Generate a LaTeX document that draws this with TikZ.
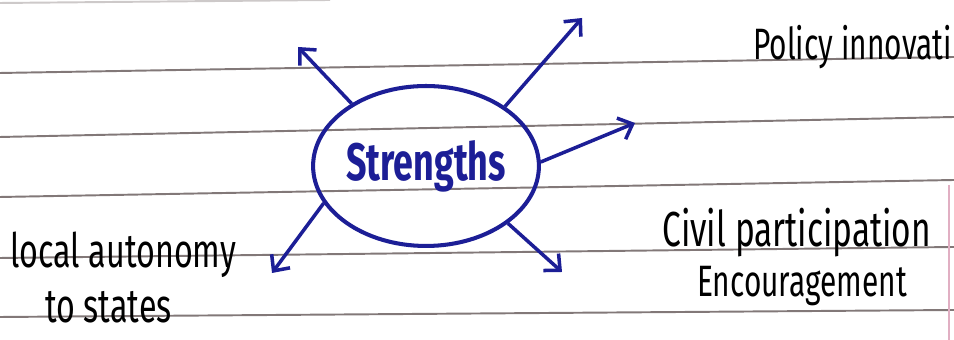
\documentclass[tikz,border=0pt]{standalone}
\usepackage{fontspec}
\newfontfamily\handfont{Fira Sans}[FakeStretch=0.68]
\usepackage{tikz}
\usetikzlibrary{shapes.geometric, arrows.meta, positioning}
\definecolor{ink}{RGB}{28,30,150}
\definecolor{ruleline}{RGB}{130,120,120}
\definecolor{margin}{RGB}{225,175,195}

\begin{document}
\begin{tikzpicture}[
    x=0.02cm, y=0.02cm,
    ruled/.style={ruleline, line width=1.1pt},
    center/.style={ellipse, draw=ink, line width=2.3pt, minimum width=4.5cm, minimum height=3.2cm, inner sep=0pt, text=ink, font=\handfont\bfseries\fontsize{30}{32}\selectfont},
    label/.style={inner sep=0pt, text=black, font=\handfont\fontsize{25}{27}\selectfont},
    biglabel/.style={label, font=\handfont\fontsize{28}{30}\selectfont},
    arrow/.style={-{Straight Barb[length=7pt, width=13pt, line width=2pt]}, ink, line width=2pt}
]
    \useasboundingbox[fill=white] (0,0) rectangle (954,340);

    % Paper
    \draw[ruled, ruleline!40] (0,337) -- (330,340);
    \draw[ruled] (0,267) -- (954,283);
    \draw[ruled] (0,203) -- (954,223);
    \draw[ruled] (0,143) -- (954,160);
    \draw[ruled] (0,82) -- (954,93);
    \draw[ruled] (0,23) -- (954,30);
    \draw[margin, line width=1.2pt] (949,155) -- (949,0);

    % Center
    \node[center] (strengths) at (426,174) {Strengths};

    % Arrow tips
    \coordinate (nw_tip) at (298,293);
    \coordinate (ne_tip) at (582,322);
    \coordinate (e_tip) at (635,217);
    \coordinate (se_tip) at (562,68);
    \coordinate (sw_tip) at (272,67);

    % Arrows
    \draw[arrow] (strengths.140) -- (nw_tip);
    \draw[arrow] (strengths.37) -- (ne_tip);
    \draw[arrow] (strengths.2) -- (e_tip);
    \draw[arrow] (strengths.-35) -- (se_tip);
    \draw[arrow] (strengths.200) -- (sw_tip);

    % Labels
    \node[label, anchor=base east] (policy) at (952,280) {Policy innovati};
    \node[biglabel, anchor=base west] (civil) at (662,93) {Civil participation};
    \node[label, anchor=base] (encourage) at (802,43) {Encouragement};
    \node[biglabel, font=\handfont\fontsize{27}{29}\selectfont, anchor=base west] (autonomy) at (10,72) {local autonomy};
    \node[biglabel, font=\handfont\fontsize{27}{29}\selectfont, anchor=base west] (states) at (45,17) {to states};

\end{tikzpicture}
\end{document}
